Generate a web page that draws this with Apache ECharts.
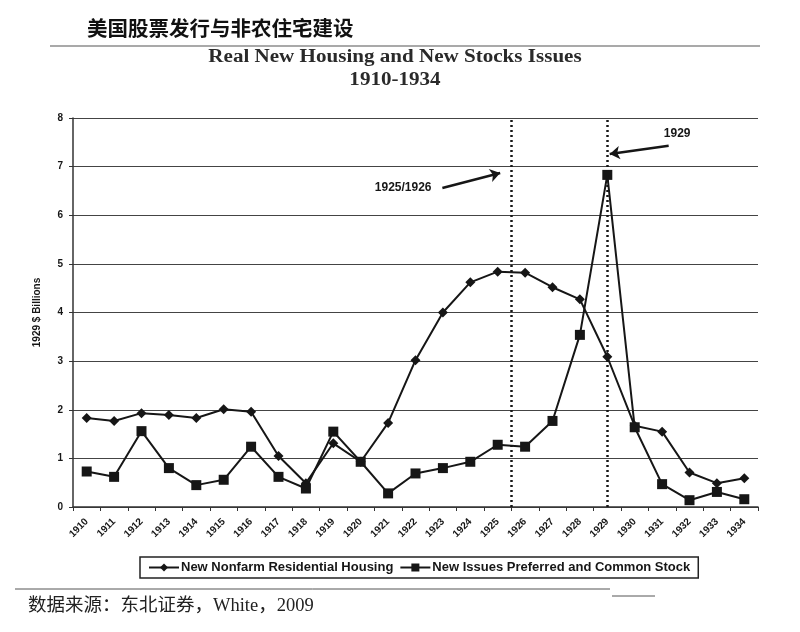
<!DOCTYPE html>
<html><head><meta charset="utf-8">
<script src="https://cdn.jsdelivr.net/npm/echarts@6/dist/echarts.min.js"></script>
<style>html,body{margin:0;padding:0;background:#fff}#c{width:800px;height:632px}</style>
</head><body><div id="c"></div>
<script>
const years = ['1910','1911','1912','1913','1914','1915','1916','1917','1918','1919','1920','1921','1922','1923','1924','1925','1926','1927','1928','1929','1930','1931','1932','1933','1934'];
const housing = [1.83,1.77,1.93,1.89,1.83,2.01,1.96,1.05,0.49,1.31,0.93,1.73,3.02,4.00,4.62,4.84,4.82,4.52,4.27,3.09,1.67,1.55,0.71,0.49,0.59];
const stocks  = [0.73,0.62,1.56,0.80,0.45,0.56,1.24,0.62,0.38,1.55,0.93,0.28,0.69,0.80,0.93,1.28,1.24,1.77,3.54,6.83,1.64,0.47,0.14,0.31,0.16];
const yMin = 0, yMax = 8, yStep = 1;
const markerYears = [1925.5, 1929];
const arrowFrom = [[1922.98, 6.56], [1931.24, 7.43]];
const arrowTo   = [[1925.09, 6.87], [1929.09, 7.26]];
const noteTexts = ['1925/1926', '1929'];
const notePos   = [[1921.55, 6.56], [1931.55, 7.67]];
const seriesNames = ['New Nonfarm Residential Housing', 'New Issues Preferred and Common Stock'];

const chart = echarts.init(document.getElementById('c'));
const ink = '#161616';
const sans = 'Liberation Sans, Arial, sans-serif';
chart.setOption({
  backgroundColor: '#fff',
  animation: false,
  grid: {left: 73, right: 42, top: 118, bottom: 125},
  graphic: [
    {type:'text', left: 87, top: 18, style:{text:'美国股票发行与非农住宅建设', font:'bold 20.5px "Noto Sans CJK SC"', fill:'#111'}},
    {type:'line', shape:{x1:50, y1:46, x2:760, y2:46}, style:{stroke:'#555', lineWidth:1.2}},
    {type:'text', x: 395, y: 57, scaleX: 1.17, style:{text:'Real New Housing and New Stocks Issues', font:'bold 18px "Liberation Serif"', fill:'#2a2a2a', textAlign:'center', textVerticalAlign:'middle'}},
    {type:'text', x: 395, y: 80, scaleX: 1.17, style:{text:'1910-1934', font:'bold 18px "Liberation Serif"', fill:'#2a2a2a', textAlign:'center', textVerticalAlign:'middle'}},
    {type:'line', shape:{x1:15, y1:589, x2:610, y2:589}, style:{stroke:'#555', lineWidth:1}},
    {type:'line', shape:{x1:612, y1:596, x2:655, y2:596}, style:{stroke:'#555', lineWidth:1}},
    {type:'text', x: 28, y: 606, style:{text:'数据来源：东北证券，White，2009', font:'18.5px "Liberation Serif", "Noto Sans CJK SC"', fill:'#222', textVerticalAlign:'middle'}}
  ],
  legend: {
    left: 140, top: 557,
    data: seriesNames,
    itemWidth: 30, itemHeight: 10, itemGap: 6,
    borderColor: '#222', borderWidth: 1.5, padding: [4, 8],
    textStyle: {fontFamily: sans, fontSize: 13, fontWeight: 'bold', color: ink, padding: [0,0,0,-3]}
  },
  xAxis: [
    {type:'category', data: years, boundaryGap: true,
     axisLine:{lineStyle:{color:'#333', width:1.5}},
     axisTick:{show:true, length:4, lineStyle:{color:'#333'}},
     axisLabel:{rotate:45, fontSize:10, fontWeight:'bold', fontFamily:sans, color:ink, margin:13}},
    {type:'value', min:1909.5, max:1934.5, show:false}
  ],
  yAxis: {
    type:'value', min:yMin, max:yMax, interval:yStep,
    name:'1929 $ Billions', nameLocation:'middle', nameGap:31, nameRotate:90,
    nameTextStyle:{fontFamily:sans, fontSize:10, fontWeight:'bold', color:ink},
    axisLine:{show:true, lineStyle:{color:'#333', width:1.5}},
    axisTick:{show:true, length:4, lineStyle:{color:'#333'}},
    axisLabel:{fontSize:10, fontWeight:'bold', fontFamily:sans, color:ink, margin:10},
    splitLine:{lineStyle:{color:'#444', width:1.2}}
  },
  series: [
    {name: seriesNames[0], type:'line', data: housing, symbol:'diamond', symbolSize:10,
     itemStyle:{color:ink}, lineStyle:{color:ink, width:2}},
    {name: seriesNames[1], type:'line', data: stocks, symbol:'rect', symbolSize:10,
     itemStyle:{color:ink}, lineStyle:{color:ink, width:2}},
    {type:'line', xAxisIndex:1, data:[], silent:true,
     markLine:{symbol:'none', label:{show:false},
       lineStyle:{type:[2,3], color:ink, width:2.5},
       data: markerYears.map(v => ({xAxis: v}))}},
    {type:'line', xAxisIndex:1, data:[], silent:true,
     markLine:{symbol:['none','arrow'], symbolSize:10, label:{show:false},
       lineStyle:{type:'solid', color:ink, width:2.5},
       data: arrowFrom.map((f, i) => [{coord: f}, {coord: arrowTo[i]}])},
     markPoint:{symbol:'rect', symbolSize:1, itemStyle:{color:'rgba(0,0,0,0)'},
       label:{show:true, position:'inside', fontFamily:sans, fontSize:12, fontWeight:'bold', color:ink, formatter: p => p.name},
       data: noteTexts.map((t, i) => ({name: t, coord: notePos[i]}))}}
  ]
});
</script></body></html>
